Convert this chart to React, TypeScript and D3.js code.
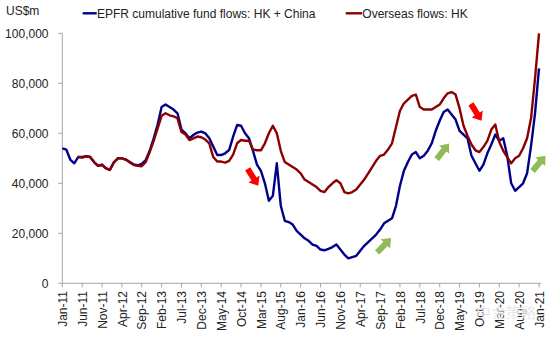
import React from "react";
import * as d3 from "d3";

const tickLabels = ["Jan-11","Jun-11","Nov-11","Apr-12","Sep-12","Feb-13","Jul-13","Dec-13","May-14","Oct-14","Mar-15","Aug-15","Jan-16","Jun-16","Nov-16","Apr-17","Sep-17","Feb-18","Jul-18","Dec-18","May-19","Oct-19","Mar-20","Aug-20","Jan-21"];
const yTicks = [0, 20000, 40000, 60000, 80000, 100000];

// monthly values, Jan-11 .. Jan-21, in US$ thousand-millions (x1000 = US$m)
const epfr = [
  54.0, 53.5, 49.5, 48.0, 50.5, 50.5, 50.8, 50.5, 48.5, 47.0,
  47.5, 46.0, 45.5, 48.5, 50.0, 50.0, 49.5, 48.5, 47.5, 47.2,
  47.8, 49.3, 53.0, 58.0, 63.5, 70.5, 71.5, 70.5, 69.5, 68.0,
  61.5, 60.0, 58.0, 59.3, 60.3, 60.7, 60.0, 58.0, 54.7, 51.3,
  51.3, 52.0, 53.3, 58.7, 63.3, 63.0, 60.0, 58.0, 53.0, 47.5,
  45.0, 40.0, 33.0, 35.0, 48.0, 31.0, 25.0, 24.5, 23.5, 21.0,
  19.5, 18.0, 17.0, 15.5, 15.0, 13.5, 13.2, 13.8, 14.5, 15.5,
  13.5, 11.5, 10.0, 10.5, 11.0, 13.0, 15.0, 16.5, 18.0, 19.5,
  21.5, 24.0, 25.0, 26.0, 31.0, 39.0, 45.0, 48.5, 51.5, 52.5,
  50.0, 51.0, 53.0, 56.0, 61.0, 65.0, 68.5, 69.5, 67.5, 65.5,
  61.0, 59.5, 58.0, 51.0, 48.0, 45.0, 47.5, 52.0, 55.5, 59.5,
  57.0, 58.0, 51.0, 40.0, 37.0, 38.5, 40.0, 44.0, 55.0, 68.0,
  86.0,
];
const overseas = [
  null, null, null, null, 50.5, 50.3, 50.8, 50.5, 48.5, 47.0,
  47.3, 46.0, 45.3, 48.3, 50.0, 50.0, 49.5, 48.3, 47.3, 47.0,
  46.8, 48.5, 52.5, 57.0, 62.0, 67.0, 68.0, 67.2, 66.8, 66.0,
  60.5, 59.5, 57.3, 58.0, 58.7, 58.4, 57.5, 56.0, 50.5, 48.7,
  48.7, 48.3, 49.0, 51.5, 56.0, 57.3, 57.0, 57.0, 53.5, 53.2,
  53.2, 56.0, 60.0, 63.0, 60.0, 53.0, 48.5, 47.5, 46.5, 45.5,
  44.0, 41.5, 40.5, 39.5, 38.5, 37.0, 36.5, 38.5, 40.0, 41.2,
  40.0, 36.5, 36.0, 36.5, 37.5, 39.5, 41.5, 44.0, 46.5, 49.0,
  51.0, 51.5, 53.5, 56.0, 62.5, 69.0, 72.0, 73.5, 75.0, 75.5,
  70.5, 69.5, 69.5, 69.5, 70.5, 71.5, 74.0, 76.0, 76.5, 75.5,
  70.0, 63.0, 59.0, 55.5, 53.2, 52.5, 54.5, 57.0, 61.5, 63.5,
  56.5, 53.0, 50.5, 48.0, 50.0, 51.0, 54.0, 58.0, 66.0, 82.0,
  100.0,
];

// annotation arrows anchored in data space: [month index, value, angle, colour]
const arrows: [number, number, number, string][] = [
  [48.0, 42400, 58, "#FF0000"],
  [104.2, 68400, 58, "#FF0000"],
  [81.0, 15200, -46, "#8FBC55"],
  [95.8, 52800, -52, "#8FBC55"],
  [120.0, 48000, -50, "#8FBC55"],
];

const FONT = "'Liberation Sans', Arial, sans-serif";

export default function App() {
  const W = 550, H = 337;
  const x = d3.scaleLinear().domain([0, 120]).range([62.3, 539]);
  const y = d3.scaleLinear().domain([0, 100000]).range([283.3, 33.3]);

  const mk = (arr: (number | null)[]) =>
    d3.line<number | null>()
      .defined((d) => d != null)
      .x((_, i) => x(i))
      .y((d) => y((d as number) * 1000))(arr) || "";

  const fmt = d3.format(",");
  const arrowPath = "M-10,-3L2,-3L2,-6.5L10,0L2,6.5L2,3L-10,3Z";

  return (
    <svg width={W} height={H} style={{ position: "absolute", left: 0, top: 0, background: "#fff" }}
      fontFamily={FONT}>
      <rect width={W} height={H} fill="#fff" />
      {/* Y axis */}
      <line x1={62.3} x2={62.3} y1={y(100000)} y2={y(0)} stroke="#a6a6a6" strokeWidth={1} />
      {yTicks.map((t) => (
        <g key={t}>
          <line x1={58.3} x2={62.3} y1={y(t)} y2={y(t)} stroke="#a6a6a6" />
          <text x={48.5} y={y(t)} dy="0.35em" textAnchor="end" fontSize={12} fill="#222">
            {fmt(t)}
          </text>
        </g>
      ))}
      {/* X axis */}
      <line x1={62.3} x2={541} y1={y(0)} y2={y(0)} stroke="#a6a6a6" />
      {tickLabels.map((lab, i) => {
        const tx = x(i * 5);
        return (
          <g key={lab}>
            <line x1={tx} x2={tx} y1={y(0)} y2={y(0) + 4} stroke="#a6a6a6" />
            <text transform={`translate(${tx + 0.5},291) rotate(-90)`} textAnchor="end" dy="0.35em"
              fontSize={12} fill="#222">{lab}</text>
          </g>
        );
      })}
      {/* Lines */}
      <path d={mk(epfr)} fill="none" stroke="#000088" strokeWidth={2.4} strokeLinejoin="round" />
      <path d={mk(overseas)} fill="none" stroke="#8B0000" strokeWidth={2.4} strokeLinejoin="round" />
      {/* Arrows */}
      {arrows.map(([m, v, a, c], i) => (
        <path key={i} d={arrowPath} fill={c}
          transform={`translate(${x(m)},${y(v)}) rotate(${a})`} />
      ))}
      {/* Titles / legend */}
      <text x={6} y={11} dy="0.35em" fontSize={12} fill="#222">US$m</text>
      <line x1={82.7} x2={96.7} y1={13.3} y2={13.3} stroke="#000088" strokeWidth={2.4} />
      <text x={97} y={13.5} dy="0.35em" fontSize={12} fill="#222">EPFR cumulative fund flows: HK + China</text>
      <line x1={345.7} x2={362} y1={13.3} y2={13.3} stroke="#8B0000" strokeWidth={2.4} />
      <text x={362.3} y={13.5} dy="0.35em" fontSize={12} fill="#222">Overseas flows: HK</text>
      {/* watermark */}
      <text x={476} y={313} dy="0.35em" fontSize={15} fill="#bbbbbb" fillOpacity={0.75}
        fontFamily="'Noto Sans CJK SC', sans-serif" stroke="#fff" strokeWidth={0.5}>中金策略</text>
    </svg>
  );
}
